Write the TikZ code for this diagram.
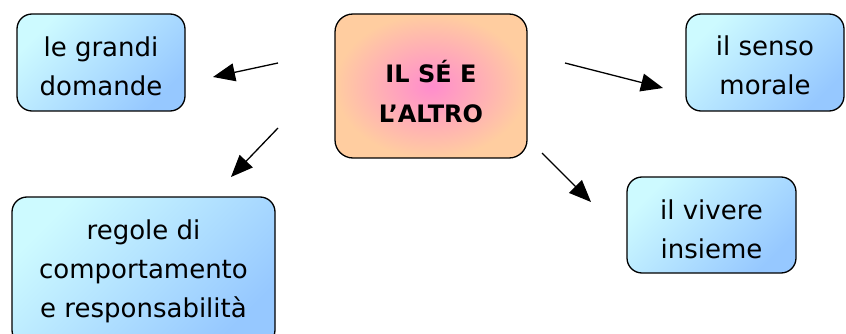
\documentclass[tikz,border=0pt]{standalone}
\usepackage{fontspec}
\setmainfont{DejaVu Sans}
\usetikzlibrary{arrows.meta}

\definecolor{cielo}{RGB}{205,250,255}
\definecolor{azzurro}{RGB}{150,200,255}
\definecolor{rosa}{RGB}{255,140,205}
\definecolor{pesca}{RGB}{255,205,160}

\tikzset{
  tema/.style={draw=black, line width=1.3pt, rounded corners=15pt,
    top color=cielo, bottom color=azzurro, shading angle=45,
    align=center, font=\fontsize{26}{39}\selectfont, inner sep=0pt},
  nucleo/.style={draw=black, line width=1.3pt, rounded corners=18pt,
    inner color=rosa, outer color=pesca,
    align=center, font=\fontsize{24}{40}\selectfont\bfseries, inner sep=0pt},
  freccia/.style={line width=1.3pt, -{Triangle[length=22pt,width=18pt]}}
}

\begin{document}
\begin{tikzpicture}[x=1pt, y=-1pt]
\clip (0,0) rectangle (846,334);

% Nodo centrale
\node[nucleo, minimum width=192pt, minimum height=144pt, text height=74pt] (core) at (431,86) {IL SÉ E\\L’ALTRO};

% Temi
\node[tema, minimum width=168pt, minimum height=97pt, text height=67pt] (grandi) at (101,62.5) {le grandi\\domande};
\node[tema, minimum width=158pt, minimum height=97pt, text height=64pt] (senso) at (765,62.5) {il senso\\morale};
\node[tema, minimum width=169pt, minimum height=96pt, text height=68pt] (vivere) at (711.5,225) {il vivere\\insieme};
\node[tema, minimum width=263pt, minimum height=148pt] (regole) at (143.5,271) {regole di\\comportamento\\e responsabilità};

% Frecce
\coordinate (a1) at (278,63);  \coordinate (b1) at (213,77);
\coordinate (a2) at (278,128); \coordinate (b2) at (231,177);
\coordinate (a3) at (565,63);  \coordinate (b3) at (663,88);
\coordinate (a4) at (542,153); \coordinate (b4) at (591,202);
\draw[freccia] (a1) -- (b1);
\draw[freccia] (a2) -- (b2);
\draw[freccia] (a3) -- (b3);
\draw[freccia] (a4) -- (b4);

\end{tikzpicture}
\end{document}
